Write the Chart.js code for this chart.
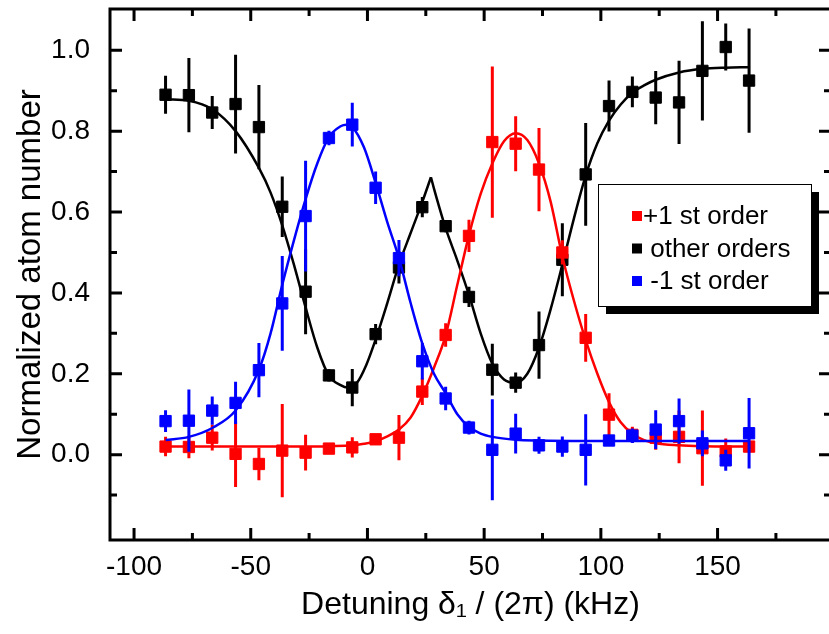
<!DOCTYPE html>
<html>
<head>
<meta charset="utf-8">
<script src="https://cdn.jsdelivr.net/npm/chart.js@4.4.1/dist/chart.umd.min.js"></script>
<style>
  html, body { margin: 0; padding: 0; background: #fff; overflow: hidden; }
  #wrap { width: 840px; height: 634px; }
</style>
</head>
<body>
<div id="wrap"><canvas id="myChart" width="840" height="634"></canvas></div>
<script>
// measured points, detuning in kHz
var detuning = [-86.5, -76.5, -66.5, -56.5, -46.5, -36.5, -26.5, -16.5, -6.5, 3.5, 13.5, 23.5, 33.5,
                43.5, 53.5, 63.5, 73.5, 83.5, 93.5, 103.5, 113.5, 123.5, 133.5, 143.5, 153.5, 163.5];

var plusOne    = [0.020, 0.019, 0.042, 0.002, -0.023, 0.010, 0.005, 0.015, 0.018, 0.038, 0.042, 0.156, 0.296,
                  0.541, 0.773, 0.769, 0.705, 0.500, 0.289, 0.099, 0.049, 0.042, 0.044, 0.016, 0.008, 0.020];
var plusOneErr = [0.024, 0.028, 0.032, 0.082, 0.040, 0.115, 0.044, 0.012, 0.025, 0.012, 0.056, 0.033, 0.029,
                  0.040, 0.187, 0.068, 0.103, 0.030, 0.059, 0.053, 0.020, 0.030, 0.065, 0.093, 0.032, 0.014];

var others    = [0.890, 0.889, 0.846, 0.867, 0.810, 0.613, 0.403, 0.196, 0.166, 0.298, 0.463, 0.612, 0.565,
                 0.390, 0.210, 0.178, 0.271, 0.482, 0.693, 0.862, 0.897, 0.883, 0.871, 0.949, 1.008, 0.925];
var othersErr = [0.047, 0.092, 0.041, 0.122, 0.104, 0.075, 0.105, 0.015, 0.046, 0.025, 0.040, 0.025, 0.015,
                 0.025, 0.064, 0.025, 0.083, 0.090, 0.127, 0.063, 0.038, 0.066, 0.103, 0.123, 0.058, 0.129];

var minusOne    = [0.083, 0.084, 0.109, 0.128, 0.209, 0.374, 0.590, 0.783, 0.816, 0.660, 0.486, 0.231, 0.139,
                   0.067, 0.012, 0.052, 0.023, 0.020, 0.012, 0.035, 0.047, 0.062, 0.083, 0.028, -0.014, 0.053];
var minusOneErr = [0.027, 0.077, 0.035, 0.052, 0.067, 0.117, 0.137, 0.018, 0.054, 0.040, 0.045, 0.045, 0.029,
                   0.017, 0.125, 0.049, 0.021, 0.025, 0.088, 0.012, 0.018, 0.048, 0.056, 0.032, 0.026, 0.087];

// fit curves
var fitRedX = [-86.5, -66.5, -46.5, -26.5, -16.5, -6.5, -1.5, 3.5, 8.5, 13.5, 18.5, 23.5, 28.5, 33.5, 38.5,
               43.5, 48.5, 53.5, 58.5, 63.5, 68.5, 73.5, 78.5, 83.5, 88.5, 93.5, 98.5, 103.5, 108.5, 113.5,
               118.5, 123.5, 133.5, 143.5, 163.5];
var fitRedY = [0.020, 0.020, 0.020, 0.020, 0.021, 0.023, 0.027, 0.033, 0.045, 0.062, 0.092, 0.146, 0.215, 0.295, 0.420,
               0.543, 0.645, 0.720, 0.775, 0.795, 0.778, 0.720, 0.625, 0.490, 0.380, 0.283, 0.200, 0.130, 0.080, 0.052,
               0.036, 0.028, 0.023, 0.021, 0.020];

var fitBlackLeftX = [-86.5, -76.5, -66.5, -56.5, -46.5, -41.5, -36.5, -31.5, -26.5, -21.5, -16.5, -11.5, -8.5, -4.5,
                     -0.5, 3.5, 8.5, 13.5, 18.5, 23.5, 27.2];
var fitBlackLeftY = [0.879, 0.875, 0.854, 0.800, 0.709, 0.648, 0.567, 0.470, 0.364, 0.265, 0.195, 0.172, 0.166, 0.178,
                     0.222, 0.285, 0.375, 0.470, 0.548, 0.625, 0.686];
var fitBlackRightX = [27.2, 28.5, 33.5, 38.5, 43.5, 48.5, 53.5, 58.5, 63.5, 68.5, 73.5, 78.5, 83.5, 88.5, 93.5,
                      98.5, 103.5, 108.5, 113.5, 118.5, 123.5, 133.5, 143.5, 153.5, 163.5];
var fitBlackRightY = [0.686, 0.658, 0.560, 0.480, 0.395, 0.300, 0.225, 0.186, 0.178, 0.200, 0.265, 0.360, 0.470, 0.585, 0.690,
                      0.770, 0.826, 0.866, 0.895, 0.913, 0.927, 0.945, 0.954, 0.957, 0.958];

var fitBlueX = [-86.5, -76.5, -66.5, -56.5, -46.5, -41.5, -36.5, -31.5, -26.5, -21.5, -16.5, -11.5, -9, -6.5, -1.5,
                3.5, 8.5, 13.5, 18.5, 23.5, 28.5, 33.5, 38.5, 43.5, 48.5, 53.5, 63.5, 73.5, 93.5, 123.5, 163.5];
var fitBlueY = [0.036, 0.044, 0.066, 0.109, 0.210, 0.300, 0.420, 0.530, 0.632, 0.720, 0.785, 0.812, 0.816, 0.810, 0.760,
                0.672, 0.575, 0.486, 0.375, 0.275, 0.200, 0.152, 0.100, 0.069, 0.052, 0.044, 0.037, 0.035, 0.034, 0.034, 0.034];

// axis ticks
var xMajor = [-100, -50, 0, 50, 100, 150];
var xMinor = [-75, -25, 25, 75, 125, 175];
var yMajor = [0, 0.2, 0.4, 0.6, 0.8, 1.0];
var yMinor = [-0.1, 0.1, 0.3, 0.5, 0.7, 0.9];

var legendNames = ['+1 st order', ' other orders', ' -1 st order'];
var RED = '#ff0000', BLACK = '#000000', BLUE = '#0000ff';
var FONT = "'Liberation Sans', Arial, Helvetica, sans-serif";

function pts(xs, ys) {
  var out = [];
  for (var i = 0; i < xs.length; i++) out.push({x: xs[i], y: ys[i]});
  return out;
}
function errBars(xs, ys, es) {
  var out = [];
  for (var i = 0; i < xs.length; i++) {
    out.push({x: xs[i], y: ys[i] - es[i]});
    out.push({x: xs[i], y: ys[i] + es[i]});
    out.push({x: xs[i], y: null});
  }
  return out;
}
function fitSet(data, color, order) {
  return {data: data, showLine: true, borderColor: color, borderWidth: 2.5, pointRadius: 0,
          cubicInterpolationMode: 'monotone', order: order};
}
function errSet(data, color, order) {
  return {data: data, showLine: true, spanGaps: false, borderColor: color, borderWidth: 3,
          pointRadius: 0, order: order};
}
function markSet(data, color, order) {
  return {data: data, pointStyle: 'rect', pointRadius: 8, backgroundColor: color, borderColor: color,
          borderWidth: 1, order: order};
}
function noPad(s) {
  s.paddingTop = 0; s.paddingBottom = 0; s.paddingLeft = 0; s.paddingRight = 0;
}

// frame with inward ticks + legend box with shadow
var framePlugin = {
  id: 'frame',
  afterDatasetsDraw: function(chart) {
    var ctx = chart.ctx, a = chart.chartArea;
    var xs = chart.scales.x, ys = chart.scales.y;
    ctx.save();
    ctx.strokeStyle = '#000';
    ctx.lineWidth = 3;
    ctx.strokeRect(a.left, a.top, a.right - a.left, a.bottom - a.top);
    function xt(list, len) {
      list.forEach(function(v) {
        var p = xs.getPixelForValue(v);
        ctx.beginPath();
        ctx.moveTo(p, a.bottom); ctx.lineTo(p, a.bottom - len);
        ctx.moveTo(p, a.top); ctx.lineTo(p, a.top + len);
        ctx.stroke();
      });
    }
    function yt(list, len) {
      list.forEach(function(v) {
        var p = ys.getPixelForValue(v);
        ctx.beginPath();
        ctx.moveTo(a.left, p); ctx.lineTo(a.left + len, p);
        ctx.moveTo(a.right, p); ctx.lineTo(a.right - len, p);
        ctx.stroke();
      });
    }
    xt(xMajor, 12); xt(xMinor, 7);
    yt(yMajor, 12); yt(yMinor, 7);

    // legend
    var bx = 598, by = 184, bw = 213, bh = 122;
    ctx.fillStyle = '#000';
    ctx.fillRect(bx + 8, by + 8, bw, bh);
    ctx.fillStyle = '#fff';
    ctx.fillRect(bx, by, bw, bh);
    ctx.lineWidth = 1;
    ctx.strokeRect(bx + 0.5, by + 0.5, bw, bh);
    var colors = [RED, BLACK, BLUE];
    ctx.font = '26px ' + FONT;
    ctx.textBaseline = 'middle';
    for (var i = 0; i < legendNames.length; i++) {
      var cy = 216 + i * 32.5;
      ctx.fillStyle = colors[i];
      ctx.fillRect(632, cy - 5, 10, 10);
      ctx.fillStyle = '#000';
      ctx.fillText(legendNames[i], 643, cy + 1);
    }
    ctx.restore();
  }
};

var ctx = document.getElementById('myChart').getContext('2d');
var myChart = new Chart(ctx, {
  type: 'scatter',
  data: {
    datasets: [
      fitSet(pts(fitBlackLeftX, fitBlackLeftY), BLACK, 9),
      fitSet(pts(fitBlackRightX, fitBlackRightY), BLACK, 9),
      errSet(errBars(detuning, others, othersErr), BLACK, 8),
      markSet(pts(detuning, others), BLACK, 7),
      fitSet(pts(fitRedX, fitRedY), RED, 6),
      errSet(errBars(detuning, plusOne, plusOneErr), RED, 5),
      markSet(pts(detuning, plusOne), RED, 4),
      fitSet(pts(fitBlueX, fitBlueY), BLUE, 3),
      errSet(errBars(detuning, minusOne, minusOneErr), BLUE, 2),
      markSet(pts(detuning, minusOne), BLUE, 1)
    ]
  },
  options: {
    responsive: false,
    animation: false,
    devicePixelRatio: 1,
    layout: {padding: {top: 1, right: 8, left: 0, bottom: 0}},
    plugins: {legend: {display: false}, tooltip: {enabled: false}},
    scales: {
      x: {
        type: 'linear', min: -110.3, max: 198.6,
        grid: {display: false}, border: {display: false},
        afterFit: function(s) { s.height = 94; noPad(s); },
        ticks: {
          stepSize: 50, includeBounds: false, color: '#000', padding: 2,
          font: {family: FONT, size: 28},
          callback: function(v) { return (v < -100 || v > 150) ? '' : String(v); }
        },
        title: {display: true, text: 'Detuning \u03b4\u2081 / (2\u03c0) (kHz)', color: '#000',
                font: {family: FONT, size: 32}, padding: {top: 0, bottom: 10}}
      },
      y: {
        type: 'linear', min: -0.211, max: 1.102,
        grid: {display: false}, border: {display: false},
        afterFit: function(s) { s.width = 110; noPad(s); },
        ticks: {
          stepSize: 0.2, includeBounds: false, color: '#000', padding: 12,
          font: {family: FONT, size: 28},
          callback: function(v) { return v < -0.05 ? '' : v.toFixed(1); }
        },
        title: {display: true, text: 'Normalized atom number', color: '#000',
                font: {family: FONT, size: 33}, padding: {top: 11, bottom: 0}}
      }
    }
  },
  plugins: [framePlugin]
});
</script>
</body>
</html>
